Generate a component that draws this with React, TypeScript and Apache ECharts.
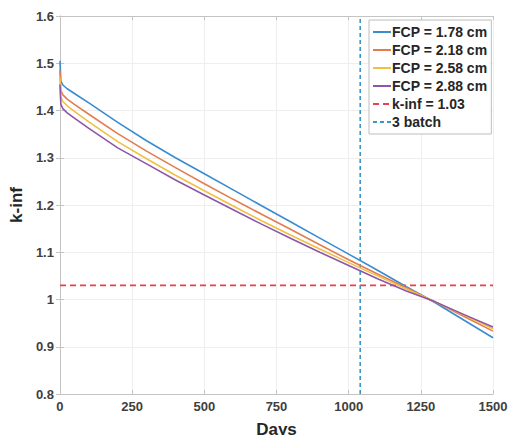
import React, { useEffect, useRef } from "react";
import * as echarts from "echarts";

const days = [0, 3, 10, 25, 50, 100, 200, 300, 400, 500, 600, 700, 800, 900, 1000, 1100, 1200, 1300, 1400, 1500];
const fcp178 = [1.505, 1.462, 1.454, 1.446, 1.436, 1.416, 1.375, 1.336, 1.300, 1.266, 1.232, 1.198, 1.164, 1.130, 1.096, 1.062, 1.027, 0.993, 0.956, 0.919];
const fcp218 = [1.485, 1.442, 1.433, 1.424, 1.413, 1.392, 1.351, 1.314, 1.279, 1.245, 1.212, 1.180, 1.148, 1.116, 1.084, 1.054, 1.025, 0.995, 0.964, 0.933];
const fcp258 = [1.470, 1.428, 1.419, 1.410, 1.398, 1.376, 1.334, 1.298, 1.263, 1.230, 1.198, 1.166, 1.136, 1.107, 1.078, 1.050, 1.022, 0.995, 0.967, 0.938];
const fcp288 = [1.455, 1.413, 1.404, 1.395, 1.384, 1.362, 1.321, 1.287, 1.253, 1.221, 1.190, 1.159, 1.129, 1.100, 1.072, 1.044, 1.018, 0.995, 0.968, 0.942];
const seriesNames = ["FCP = 1.78 cm", "FCP = 2.18 cm", "FCP = 2.58 cm", "FCP = 2.88 cm"];
const seriesValues = [fcp178, fcp218, fcp258, fcp288];
const seriesColors = ["#3a8cd0", "#e27d4e", "#f0c043", "#8e55a8"];
const kinfLimit = 1.03;
const batchDay = 1040;
const xRange = [0, 1500];
const yRange = [0.8, 1.6];

const FONT = "'Liberation Sans', Arial, Helvetica, sans-serif";

export default function App() {
  const ref = useRef<HTMLDivElement>(null);
  useEffect(() => {
    if (!ref.current) return;
    const chart = echarts.init(ref.current, undefined, { renderer: "svg" });
    const lineSeries = seriesNames.map((name, i) => ({
      name,
      type: "line",
      xAxisIndex: 0,
      yAxisIndex: 0,
      symbol: "none",
      data: days.map((d, j) => [d, seriesValues[i][j]]),
      lineStyle: { color: seriesColors[i], width: 1.6 },
      itemStyle: { color: seriesColors[i] },
      z: 3,
    }));
    const axisGray = "#c4c4c4";
    const fmt = (v: number) => String(Math.round(v * 1000) / 1000);
    chart.setOption({
      animation: false,
      textStyle: { fontFamily: FONT },
      grid: { left: 56, right: 23, top: 16, bottom: 43, containLabel: false },
      legend: {
        orient: "vertical",
        left: 369,
        top: 20,
        backgroundColor: "#ffffff",
        borderColor: "#bdbdbd",
        borderWidth: 1,
        borderRadius: 0,
        padding: [5, 4, 5, 3],
        itemWidth: 18,
        itemHeight: 12,
        itemGap: 4,
        itemStyle: { opacity: 0 },
        textStyle: { fontSize: 14, fontWeight: "bold", color: "#262626", fontFamily: FONT, padding: [0, 0, 0, -4] },
        data: [...seriesNames, "k-inf = 1.03", "3 batch"],
      },
      xAxis: [
        {
          type: "value",
          min: xRange[0],
          max: xRange[1],
          interval: 250,
          position: "bottom",
          name: "Days",
          nameLocation: "middle",
          nameGap: 27,
          nameTextStyle: { fontSize: 17, fontWeight: "bold", color: "#262626", fontFamily: FONT },
          axisLine: { show: true, lineStyle: { color: axisGray, width: 1 } },
          axisTick: { show: true, inside: true, length: 4, lineStyle: { color: axisGray } },
          axisLabel: { fontSize: 13, fontWeight: "bold", color: "#404040", margin: 6, fontFamily: FONT, formatter: fmt },
          splitLine: { show: true, lineStyle: { color: "#eeeeee", width: 1 } },
        },
        {
          type: "value",
          min: xRange[0],
          max: xRange[1],
          interval: 250,
          position: "top",
          axisLine: { show: true, lineStyle: { color: axisGray, width: 1 } },
          axisTick: { show: true, inside: true, length: 4, lineStyle: { color: axisGray } },
          axisLabel: { show: false },
          splitLine: { show: false },
        },
      ],
      yAxis: [
        {
          type: "value",
          min: yRange[0],
          max: yRange[1],
          interval: 0.1,
          position: "left",
          name: "k-inf",
          nameLocation: "middle",
          nameGap: 27,
          nameTextStyle: { fontSize: 17, fontWeight: "bold", color: "#262626", fontFamily: FONT },
          axisLine: { show: true, lineStyle: { color: axisGray, width: 1 } },
          axisTick: { show: true, inside: true, length: 4, lineStyle: { color: axisGray } },
          axisLabel: { fontSize: 13, fontWeight: "bold", color: "#404040", margin: 6, fontFamily: FONT, formatter: fmt },
          splitLine: { show: true, lineStyle: { color: "#eeeeee", width: 1 } },
        },
        {
          type: "value",
          min: yRange[0],
          max: yRange[1],
          interval: 0.1,
          position: "right",
          axisLine: { show: true, lineStyle: { color: axisGray, width: 1 } },
          axisTick: { show: true, inside: true, length: 4, lineStyle: { color: axisGray } },
          axisLabel: { show: false },
          splitLine: { show: false },
        },
      ],
      series: [
        ...lineSeries,
        {
          name: "k-inf = 1.03",
          type: "line",
          symbol: "none",
          data: [[xRange[0], kinfLimit], [xRange[1], kinfLimit]],
          lineStyle: { color: "#e8414b", width: 1.6, type: [6, 4] },
          itemStyle: { color: "#e8414b" },
          z: 2,
        },
        {
          name: "3 batch",
          type: "line",
          symbol: "none",
          data: [[batchDay, yRange[0]], [batchDay, yRange[1]]],
          lineStyle: { color: "#3a95c8", width: 1.6, type: [4, 3] },
          itemStyle: { color: "#3a95c8" },
          z: 2,
        },
      ],
    });
    return () => chart.dispose();
  }, []);
  return <div ref={ref} style={{ width: 516, height: 443, margin: -8, background: "#fff" }} />;
}
